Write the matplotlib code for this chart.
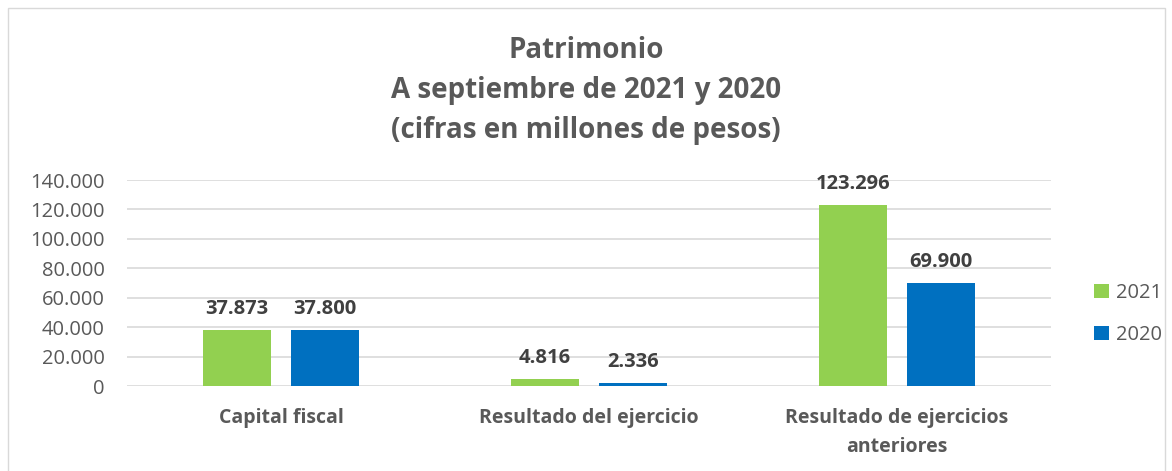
import matplotlib
matplotlib.use("Agg")
import matplotlib.pyplot as plt
from matplotlib.patches import Rectangle
import numpy as np

categories = ["Capital fiscal", "Resultado del ejercicio", "Resultado de ejercicios\nanteriores"]
series_names = ["2021", "2020"]
values_2021 = [37873, 4816, 123296]
values_2020 = [37800, 2336, 69900]
yticks = [0, 20000, 40000, 60000, 80000, 100000, 120000, 140000]
ytick_labels = ["0", "20.000", "40.000", "60.000", "80.000", "100.000", "120.000", "140.000"]

def fmt(v):
    return f"{v:,}".replace(",", ".")

plt.rcParams['font.family'] = ['Open Sans', 'DejaVu Sans']
txt = "#595959"

fig = plt.figure(figsize=(11.72, 4.71), dpi=100)
fig.patches.append(Rectangle((0.007, -0.01), 0.987, 0.993, transform=fig.transFigure,
                             fill=False, edgecolor="#d9d9d9", linewidth=1))
ax = fig.add_axes([127/1172, 1-386/471, 924/1172, 206/471])

x = np.arange(len(categories))
w = 0.22
off = 0.143
b1 = ax.bar(x - off, values_2021, w, color="#92D050", label=series_names[0])
b2 = ax.bar(x + off, values_2020, w, color="#0070C0", label=series_names[1])
for bars, vals in ((b1, values_2021), (b2, values_2020)):
    for r, v in zip(bars, vals):
        ax.text(r.get_x() + r.get_width()/2, v + 7500, fmt(v), ha="center", va="bottom",
                fontsize=14.5, fontweight="bold", color="#404040")

ax.set_xlim(-0.5, 2.5)
ax.set_ylim(0, 140000)
ax.set_yticks(yticks)
ax.set_yticklabels(ytick_labels, fontsize=14.5, color=txt)
ax.set_xticks(x)
ax.set_xticklabels(categories, fontsize=14, fontweight="bold", color=txt, linespacing=1.6)
ax.tick_params(axis="both", length=0)
ax.tick_params(axis="y", pad=16)
ax.tick_params(axis="x", pad=16)
ax.yaxis.grid(True, color="#d9d9d9", linewidth=1.2)
ax.set_axisbelow(True)
for s in ax.spines.values():
    s.set_visible(False)

fig.text(0.5, 1-36/471, "Patrimonio\nA septiembre de 2021 y 2020\n(cifras en millones de pesos)",
         ha="center", va="top", fontsize=20, fontweight="bold", color=txt, linespacing=1.5)
leg = fig.legend(handles=[b1, b2], loc="center left", bbox_to_anchor=(1076/1172, 1-314/471),
                 frameon=False, fontsize=14.5, labelcolor=txt, handlelength=0.75, handleheight=0.75,
                 handletextpad=0.35, labelspacing=1.1)
fig.savefig("out.png", dpi=100)
